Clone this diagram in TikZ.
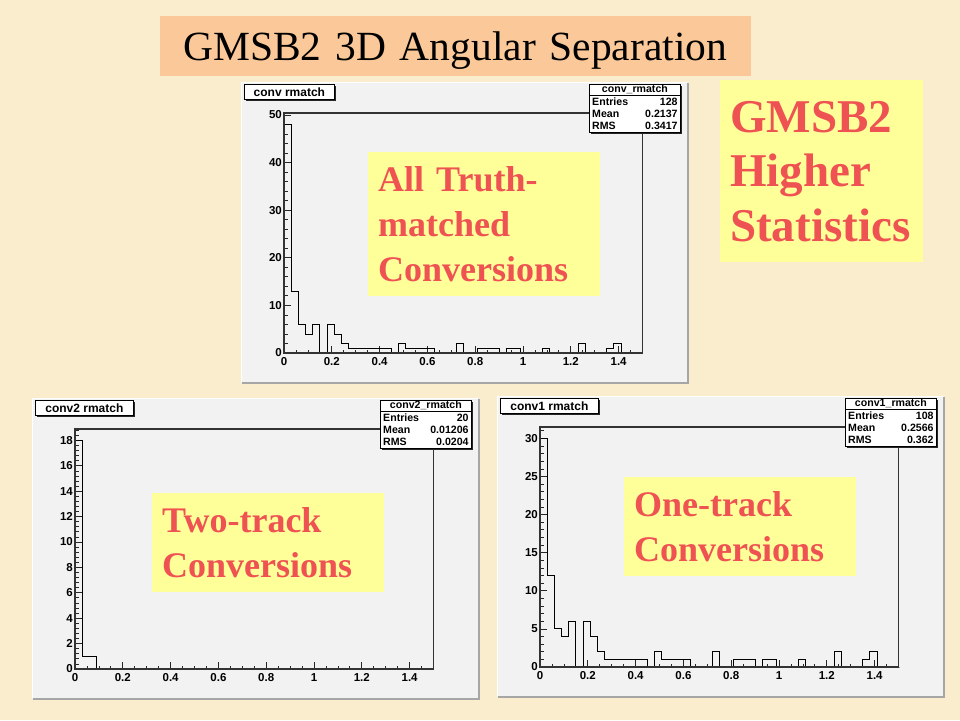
\documentclass[tikz,border=0pt]{standalone}
\usepackage{fontspec}
\setmainfont{Liberation Serif}
\setsansfont{Liberation Sans}
\usepackage{tikz}
\usetikzlibrary{positioning, shadows}

\definecolor{parchment}{RGB}{250,237,206}
\definecolor{salmon}{RGB}{251,201,153}
\definecolor{noteyellow}{RGB}{255,255,153}
\definecolor{slidered}{RGB}{238,82,82}
\definecolor{canvasgray}{RGB}{242,242,242}

\newcommand{\fsz}[2]{\fontsize{#1}{#2}\selectfont}

\tikzset{
    axlabel/.style={font=\sffamily\bfseries\fsz{11.5}{12}, inner sep=1pt},
    tickline/.style={black!85, line width=0.8pt},
    histline/.style={black, line width=0.9pt},
    framebox/.style={black!80, line width=1.1pt},
    padtitle/.style={draw=black, fill=white, line width=0.8pt, minimum height=15pt, inner sep=0pt,
        font=\sffamily\bfseries\fsz{12}{13},
        drop shadow={shadow xshift=1.5pt, shadow yshift=-1.5pt, opacity=1, fill=black!85}},
    statbox/.style={draw=black, fill=white, line width=0.8pt, minimum width=91pt, minimum height=48pt,
        inner sep=0pt,
        drop shadow={shadow xshift=1.5pt, shadow yshift=-1.5pt, opacity=1, fill=black!85}},
    stattext/.style={font=\sffamily\bfseries\fsz{10.6}{11}, inner sep=0pt},
    notebox/.style={fill=noteyellow, text=slidered, align=left, font=\bfseries\fsz{36}{45},
        inner ysep=0pt, inner xsep=10pt},
}

% one ROOT pad: canvas, frame, ticks, labels, histogram and boxes
\newcommand{\histpad}[1]{%
    \fill[canvasgray] (0,0) rectangle (447,301);
    \draw[black!35, line width=1.5pt] (447,1) -- (447,301) -- (1,301);
    \draw[white, line width=1pt] (0,300) -- (0,0) -- (446,0);
    \pgfmathsetmacro{\yunit}{240/\ymax}
    \begin{scope}[shift={(43,271)}, x=239pt, y=\yunit pt]
        % x axis
        \foreach \k in {0,...,30} \draw[tickline] ({\k*0.05},0) -- ++(0,3.5pt);
        \foreach \t in {0,0.2,0.4,0.6,0.8,1,1.2,1.4} {
            \draw[tickline] (\t,0) -- ++(0,7pt);
            \node[axlabel, anchor=north] (#1x\t) at ([yshift=-3pt]\t,0) {\t};
        }
        % y axis
        \pgfmathtruncatemacro{\nminor}{\ymax/\yminor}
        \foreach \k in {0,...,\nminor} \draw[tickline] (0,{\k*\yminor}) -- ++(3.5pt,0);
        \pgfmathtruncatemacro{\nmajor}{\ymax/\ymajor}
        \foreach \k in {0,...,\nmajor} {
            \pgfmathtruncatemacro{\ylab}{\k*\ymajor}
            \draw[tickline] (0,\ylab) -- ++(7pt,0);
            \node[axlabel, anchor=east] (#1y\k) at ([xshift=-1pt]0,\ylab) {\ylab};
        }
        % histogram, bins of 0.03
        \draw[histline] (0,0) \foreach \v [count=\i from 0] in \bins {
            -- ({\i*0.03},\v) -- ({(\i+1)*0.03},\v) } -- (1.5,0);
        \draw[framebox] (0,0) rectangle (1.5,\ymax);
    \end{scope}
    \node[padtitle, minimum width=\padw, anchor=north west] (#1title) at (3,2) {\padname};
    \node[statbox, anchor=north west] (#1stats) at (348,2) {};
    \draw[line width=0.8pt] ([yshift=-11pt]#1stats.north west) -- ([yshift=-11pt]#1stats.north east);
    \node[stattext] (#1head) at ([yshift=-5.5pt]#1stats.north) {\statname};
    \foreach \row/\val [count=\r] in {Entries/\nentries, Mean/\nmean, RMS/\nrms} {
        \node[stattext, anchor=west] (#1row\r) at ([shift={(3pt,{-6pt-12pt*\r})}]#1stats.north west) {\row};
        \node[stattext, anchor=east] (#1val\r) at ([shift={(-3pt,{-6pt-12pt*\r})}]#1stats.north east) {\val};
    }
}

\begin{document}
\begin{tikzpicture}[x=1pt, y=-1pt]
    \fill[parchment] (0,0) rectangle (960,720);
    \useasboundingbox (0,0) rectangle (960,720);

    % slide title
    \node[fill=salmon, font=\fsz{41.5}{48}, text width=545pt, align=left, inner xsep=23pt,
        inner ysep=0pt, minimum height=60pt, text depth=0pt, anchor=north west] (title) at (160,16)
        {GMSB2 3D Angular Separation};

    % top pad: all conversions
    \begin{scope}[shift={(241,82)}]
        \def\ymax{50.4} \def\ymajor{10} \def\yminor{2}
        \def\bins{48,13,6,4,6,0,6,4,2,1, 1,1,1,1,1,0,2,1,1,1, 1,0,0,0,2,0,0,1,1,1, 0,1,1,0,0,0,1,0,0,0, 0,2,0,0,0,1,2,0,0,0}
        \def\padname{conv rmatch} \def\padw{90pt}
        \def\statname{conv\_rmatch} \def\nentries{128} \def\nmean{0.2137} \def\nrms{0.3417}
        \histpad{all}
    \end{scope}

    % bottom left pad: two-track
    \begin{scope}[shift={(32,398)}]
        \def\ymax{18.9} \def\ymajor{2} \def\yminor{0.4}
        \def\bins{18,1,1,0,0,0,0,0,0,0, 0,0,0,0,0,0,0,0,0,0, 0,0,0,0,0,0,0,0,0,0, 0,0,0,0,0,0,0,0,0,0, 0,0,0,0,0,0,0,0,0,0}
        \def\padname{conv2 rmatch} \def\padw{98pt}
        \def\statname{conv2\_rmatch} \def\nentries{20} \def\nmean{0.01206} \def\nrms{0.0204}
        \histpad{two}
    \end{scope}

    % bottom right pad: one-track
    \begin{scope}[shift={(497,396)}]
        \def\ymax{31.5} \def\ymajor{5} \def\yminor{1}
        \def\bins{30,12,5,4,6,0,6,4,2,1, 1,1,1,1,1,0,2,1,1,1, 1,0,0,0,2,0,0,1,1,1, 0,1,1,0,0,0,1,0,0,0, 0,2,0,0,0,1,2,0,0,0}
        \def\padname{conv1 rmatch} \def\padw{98pt}
        \def\statname{conv1\_rmatch} \def\nentries{108} \def\nmean{0.2566} \def\nrms{0.362}
        \histpad{one}
    \end{scope}

    % notes
    \node[notebox, text width=212pt, minimum height=144pt, anchor=north west] (allnote) at (368,152)
        {All Truth-\\matched\\Conversions};
    \node[notebox, text width=212pt, minimum height=99pt, anchor=north west] (twonote) at (152,493)
        {Two-track\\Conversions};
    \node[notebox, text width=212pt, minimum height=99pt, anchor=north west] (onenote) at (624,477)
        {One-track\\Conversions};
    \node[notebox, font=\bfseries\fsz{47}{54.5}, text width=183pt, minimum height=182pt,
        anchor=north west] (gmsbnote) at (720,80) {GMSB2\\Higher\\Statistics};
\end{tikzpicture}
\end{document}
